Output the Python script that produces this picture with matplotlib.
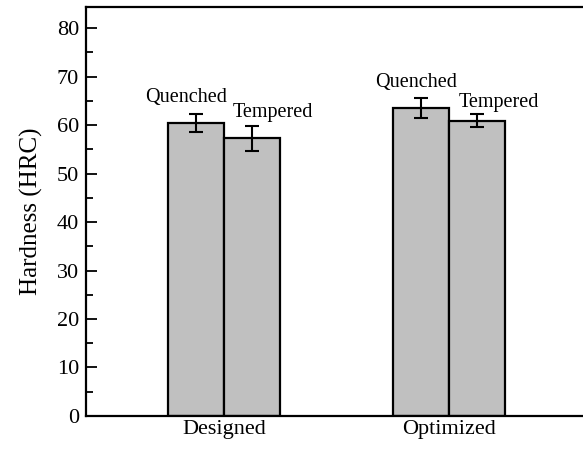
import numpy as np
import matplotlib.pyplot as plt
from matplotlib.ticker import MultipleLocator

# datos
groups = ['Designed', 'Optimized']
quenched = [60.4, 63.5]
quenched_err = [1.8, 2.0]
tempered = [57.3, 60.9]
tempered_err = [2.6, 1.4]

plt.rcParams['font.family'] = ['Liberation Serif', 'DejaVu Serif']

fig = plt.figure(figsize=(5.83, 4.5), dpi=100)
ax = fig.add_axes([0.1475, 0.0756, 0.8525, 0.9084])

x = np.arange(1, len(groups) + 1)
w = 0.25
err_kw = dict(elinewidth=1.5, capthick=1.5, ecolor='black')
ax.bar(x - w / 2, quenched, w, yerr=quenched_err, color='#c0c0c0',
       edgecolor='black', linewidth=1.6, capsize=5, error_kw=err_kw)
ax.bar(x + w / 2, tempered, w, yerr=tempered_err, color='#c0c0c0',
       edgecolor='black', linewidth=1.6, capsize=5, error_kw=err_kw)

# etiquetas encima de las barras
ax.text(x[0] - 0.169, 65.6, 'Quenched', ha='center', va='center', fontsize=14.5)
ax.text(x[0] + 0.218, 62.5, 'Tempered', ha='center', va='center', fontsize=14.5)
ax.text(x[1] - 0.147, 68.7, 'Quenched', ha='center', va='center', fontsize=14.5)
ax.text(x[1] + 0.222, 64.7, 'Tempered', ha='center', va='center', fontsize=14.5)

ax.set_xlim(0.387, 2.596)
ax.set_ylim(0, 84.3)
ax.set_xticks(x)
ax.set_xticklabels(groups, fontsize=16)
ax.yaxis.set_major_locator(MultipleLocator(10))
ax.yaxis.set_minor_locator(MultipleLocator(5))
ax.tick_params(axis='y', which='major', direction='in', length=8, width=1.3,
               labelsize=16, pad=5)
ax.tick_params(axis='y', which='minor', direction='in', length=5, width=1.3)
ax.tick_params(axis='x', length=0, pad=3)
ax.set_ylabel('Hardness (HRC)', fontsize=18, labelpad=10)

for s in ['left', 'bottom', 'top']:
    ax.spines[s].set_linewidth(1.6)
ax.spines['right'].set_visible(False)

fig.savefig('out.png', dpi=100)
